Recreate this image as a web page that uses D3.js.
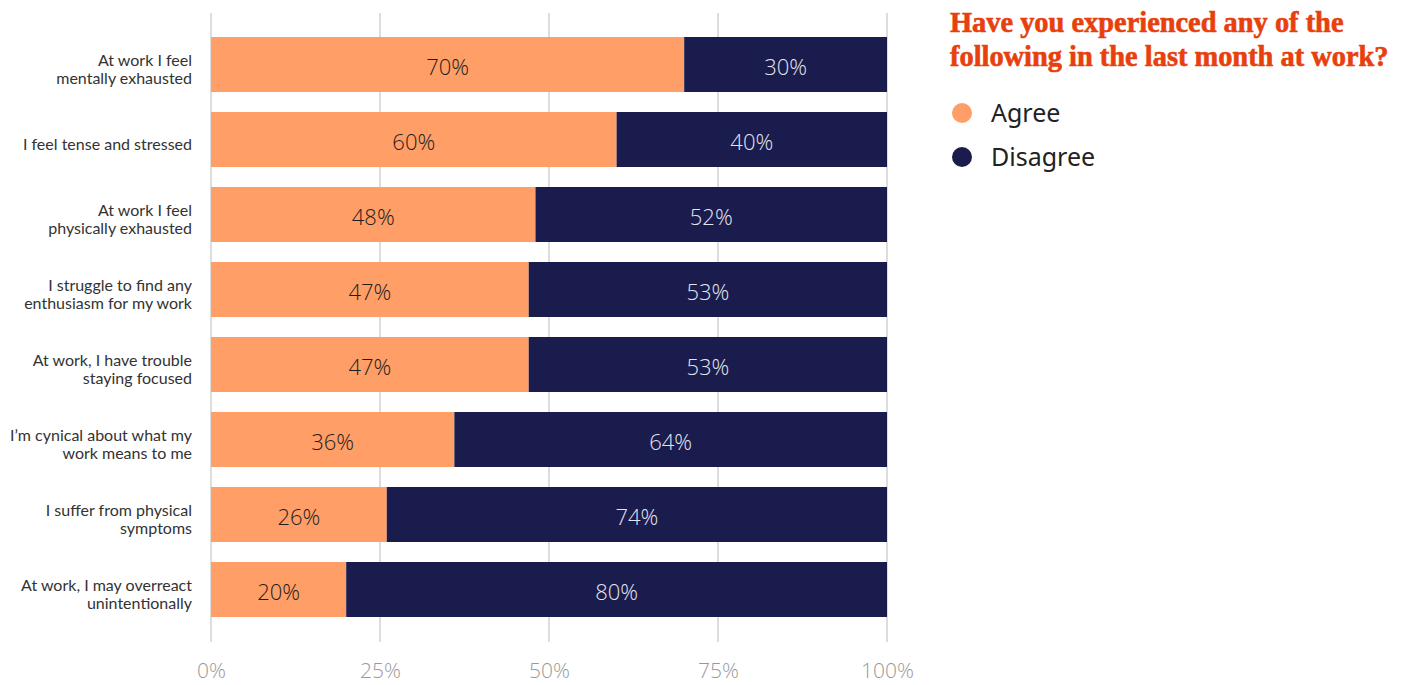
<!DOCTYPE html>
<html>
<head>
<meta charset="utf-8">
<script src="https://cdn.jsdelivr.net/npm/d3@7"></script>
<style>
  html, body { margin: 0; padding: 0; background: #fff; }
  svg { display: block; }
</style>
</head>
<body>
<svg id="chart" width="1407" height="685"></svg>
<script>
// Survey statements (each may wrap onto two lines)
const statements = [
  ["At work I feel", "mentally exhausted"],
  ["I feel tense and stressed"],
  ["At work I feel", "physically exhausted"],
  ["I struggle to find any", "enthusiasm for my work"],
  ["At work, I have trouble", "staying focused"],
  ["I\u2019m cynical about what my", "work means to me"],
  ["I suffer from physical", "symptoms"],
  ["At work, I may overreact", "unintentionally"]
];
const agree    = [70, 60, 48, 47, 47, 36, 26, 20];
const disagree = [30, 40, 52, 53, 53, 64, 74, 80];
const seriesNames = ["Agree", "Disagree"];
const seriesColors = ["#ff9e66", "#191c4c"];
const labelColors = ["#1e1e1e", "#e4e4ec"];
const tickValues = [0, 25, 50, 75, 100];
const titleLines = ["Have you experienced any of the", "following in the last month at work?"];

const svg = d3.select("#chart");

const x = d3.scaleLinear().domain([0, 100]).range([211, 887]);
const y = d3.scaleBand()
  .domain(d3.range(statements.length))
  .range([27, 627])
  .paddingInner(20 / 75)
  .paddingOuter(10 / 75);

// vertical gridlines
svg.append("g")
  .selectAll("line")
  .data(tickValues)
  .join("line")
  .attr("x1", d => x(d)).attr("x2", d => x(d))
  .attr("y1", 13).attr("y2", 642)
  .attr("stroke", "#dddddd")
  .attr("stroke-width", 2);

// x axis tick labels (baseline placed explicitly)
const xAxis = d3.axisBottom(x)
  .tickValues(tickValues)
  .tickFormat(d => d + "%")
  .tickSize(0)
  .tickPadding(0);
const gx = svg.append("g").attr("transform", "translate(0,678)").call(xAxis);
gx.select(".domain").remove();
gx.selectAll("text")
  .attr("y", 0)
  .attr("dy", 0)
  .style("font-family", "'Open Sans', sans-serif")
  .style("font-weight", 300)
  .style("font-size", "21px")
  .attr("fill", "#999999");

// stacked segments
const rows = statements.map((s, i) => ({ i, values: [agree[i], disagree[i]] }));
const segs = [];
rows.forEach(r => {
  let acc = 0;
  r.values.forEach((v, k) => {
    segs.push({ row: r.i, k, x0: acc, x1: acc + v, v });
    acc += v;
  });
});

svg.append("g")
  .selectAll("rect")
  .data(segs)
  .join("rect")
  .attr("x", d => x(d.x0))
  .attr("y", d => y(d.row))
  .attr("width", d => x(d.x1) - x(d.x0))
  .attr("height", y.bandwidth())
  .attr("fill", d => seriesColors[d.k]);

// value labels
svg.append("g")
  .selectAll("text")
  .data(segs)
  .join("text")
  .attr("x", d => (x(d.x0) + x(d.x1)) / 2)
  .attr("y", d => y(d.row) + y.bandwidth() / 2 + 3)
  .attr("dy", "0.35em")
  .attr("text-anchor", "middle")
  .style("font-family", "'Open Sans', sans-serif")
  .style("font-weight", 300)
  .style("font-size", "22px")
  .attr("fill", d => labelColors[d.k])
  .text(d => d.v + "%");

// category labels
const lineH = 18;
const cat = svg.append("g")
  .selectAll("text")
  .data(statements)
  .join("text")
  .attr("text-anchor", "end")
  .style("font-family", "Lato, sans-serif")
  .style("font-size", "16px")
  .attr("fill", "#333333")
  .attr("transform", (d, i) => {
    const cy = y(i) + y.bandwidth() / 2 + 5;
    const top = cy - (d.length - 1) * lineH / 2;
    return `translate(192,${top})`;
  });
cat.selectAll("tspan")
  .data(d => d)
  .join("tspan")
  .attr("x", 0)
  .attr("y", (d, j) => j * lineH)
  .attr("dy", "0.35em")
  .text(d => d);

// title
svg.append("g")
  .selectAll("text")
  .data(titleLines)
  .join("text")
  .attr("x", 950)
  .attr("y", (d, i) => 32 + i * 34)
  .style("font-family", "'Liberation Serif', 'DejaVu Serif', serif")
  .style("font-weight", 700)
  .style("font-size", "28.4px")
  .attr("fill", "#e8400d")
  .attr("stroke", "#e8400d")
  .attr("stroke-width", 0.6)
  .text(d => d);

// legend
const legend = svg.append("g")
  .selectAll("g")
  .data(seriesNames)
  .join("g")
  .attr("transform", (d, i) => `translate(962,${113 + i * 44})`);
legend.append("circle")
  .attr("r", 10)
  .attr("fill", (d, i) => seriesColors[i]);
legend.append("text")
  .attr("x", 29)
  .attr("dy", "0.36em")
  .style("font-family", "'Noto Sans', sans-serif")
  .style("font-size", "25px")
  .attr("fill", "#222222")
  .text(d => d);
</script>
</body>
</html>
